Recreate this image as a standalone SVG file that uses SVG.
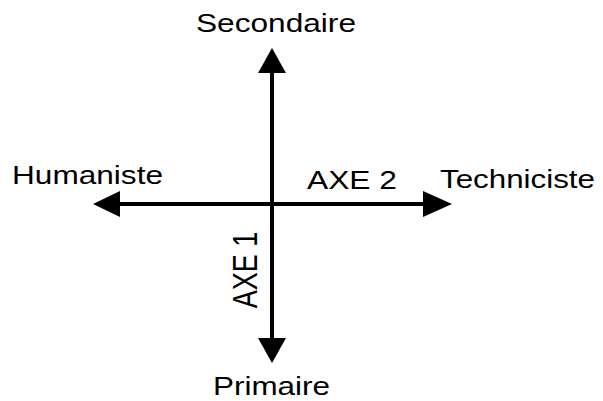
<svg xmlns="http://www.w3.org/2000/svg" width="603" height="401" viewBox="0 0 603 401">
<style>
.lbl{font-family:"Liberation Sans",Arial,sans-serif;font-size:26px;fill:#000}
.ax{stroke:#000;stroke-width:4;fill:none}
.hd{fill:#000}
</style>
<rect width="603" height="401" fill="#fff"/>
<g id="connectors">
<line class="ax" x1="272" y1="70" x2="272" y2="341"/>
<polygon class="hd" points="272,48 258,73 286,73"/>
<polygon class="hd" points="272,363 258,338 286,338"/>
<line class="ax" x1="118" y1="204" x2="426" y2="204"/>
<polygon class="hd" points="93,204 120,191 120,217"/>
<polygon class="hd" points="452,204 423,191 423,217"/>
</g>
<g id="secondaire"><text class="lbl" x="196" y="32" textLength="160" lengthAdjust="spacingAndGlyphs">Secondaire</text></g>
<g id="humaniste"><text class="lbl" x="12" y="184" textLength="151" lengthAdjust="spacingAndGlyphs">Humaniste</text></g>
<g id="techniciste"><text class="lbl" x="440" y="188" textLength="155" lengthAdjust="spacingAndGlyphs">Techniciste</text></g>
<g id="axe2"><text class="lbl" x="307" y="189" textLength="90" lengthAdjust="spacingAndGlyphs">AXE 2</text></g>
<g id="axe1"><text class="lbl" transform="translate(257,270) scale(1.27,1) rotate(-90)" text-anchor="middle" x="0" y="0" style="font-size:27px">AXE 1</text></g>
<g id="primaire"><text class="lbl" x="213" y="395" textLength="117" lengthAdjust="spacingAndGlyphs">Primaire</text></g>
</svg>
